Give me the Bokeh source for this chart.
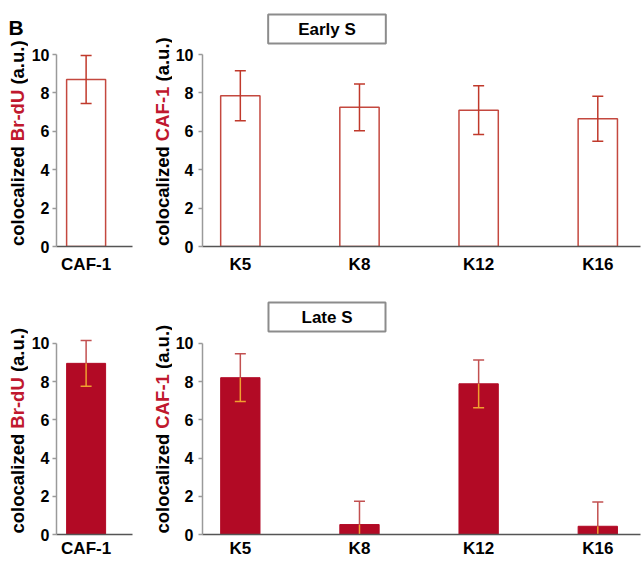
from bokeh.plotting import figure
from bokeh.models import Range1d, FixedTicker, Label
from bokeh.layouts import column, row
from bokeh.embed import file_html
from bokeh.resources import INLINE

# ---------------- data ----------------
panel_letter = "B"
left_categories = ["CAF-1"]
right_categories = ["K5", "K8", "K12", "K16"]
y_ticks = [0, 2, 4, 6, 8, 10]
phase_titles = ["Early S", "Late S"]

early_brdu = [8.7]
early_brdu_err = [1.25]
early_caf = [7.85, 7.25, 7.1, 6.65]
early_caf_err = [1.3, 1.22, 1.27, 1.17]

late_brdu = [8.95]
late_brdu_err = [1.2]
late_caf = [8.2, 0.52, 7.88, 0.43]
late_caf_err = [1.25, 1.22, 1.25, 1.27]

# ---------------- styles ----------------
FONT = "Liberation Sans"
RED_TEXT = "#c0182e"
BAR_FILL = "#b20a25"
OPEN_LINE = "#c4483f"
ERR_OPEN = "#c0392b"
ERR_OUT = "#c25050"
ERR_IN = "#f0a030"
PX_PER_UNIT = 119.7     # horizontal px per category step
PX_PER_Y = 19.2         # vertical px per y unit
BAR_W = 0.33
SZ = 18.5               # y-label font size
SPACE = 0.278
# Liberation Sans Bold advance widths (em) for the label pieces
EM_W = {"colocalized": 5.391, "Br-dU": 2.777, "CAF-1": 2.944, "(a.u.)": 2.389,
        "Early S": 3.391, "Late S": 3.001}
TITLE_SZ = 17
TITLE_BOX_W = 117


def label_column(width, height, mid, mid_x, start_y, letter_y=None):
    # the frame of this figure lines up with the frame of its neighbours in the row
    p = figure(width=width, height=height, output_backend="svg", toolbar_location=None,
               x_range=Range1d(0, 1), y_range=Range1d(0, 1),
               x_axis_location=None, y_axis_location=None,
               min_border_left=0, min_border_right=0, min_border_top=0, min_border_bottom=0)
    p.grid.visible = False
    p.outline_line_color = None
    pieces = [("colocalized", "black"), (mid, RED_TEXT), ("(a.u.)", "black")]
    y0 = start_y
    for text, color in pieces:
        w = EM_W[text] * SZ
        p.add_layout(Label(x=mid_x, y=y0 + w / 2, x_units="screen", y_units="screen",
                           text=text, angle=90, angle_units="deg",
                           text_align="center", text_baseline="middle",
                           text_font=FONT, text_font_style="bold",
                           text_font_size=f"{SZ}px", text_color=color))
        y0 += w + SPACE * SZ
    if letter_y is not None:
        p.add_layout(Label(x=8, y=letter_y, x_units="screen", y_units="screen",
                           text=panel_letter, text_align="left", text_baseline="alphabetic",
                           text_font=FONT, text_font_style="bold", text_font_size="21px",
                           text_color="black"))
    return p


def make_panel(cats, vals, errs, filled, width, height, bl, br, bb,
               first_center_px, top10_px, tick_standoff, x_standoff, title=None):
    frame_w = width - bl - br
    frame_h = height - bb
    x_start = -first_center_px / PX_PER_UNIT
    x_end = x_start + frame_w / PX_PER_UNIT
    y_end = frame_h / PX_PER_Y
    p = figure(width=width, height=height, output_backend="svg",
               toolbar_location=None,
               x_range=Range1d(x_start, x_end), y_range=Range1d(0, y_end),
               min_border_left=bl, min_border_right=br,
               min_border_top=0, min_border_bottom=bb)
    p.outline_line_color = None
    p.xgrid.visible = False
    p.ygrid.visible = False

    xs = list(range(len(cats)))
    upper = [v + e for v, e in zip(vals, errs)]
    lower = [v - e for v, e in zip(vals, errs)]

    if filled:
        p.vbar(x=xs, top=vals, bottom=0, width=BAR_W, fill_color=BAR_FILL,
               line_color=BAR_FILL, line_width=1)
        p.segment(x0=xs, y0=[max(l, 0) for l in lower], x1=xs, y1=vals,
                  line_color=ERR_IN, line_width=1.5)
        p.scatter(x=xs, y=lower, marker="dash", size=11, line_color=ERR_IN, line_width=1.5)
        p.segment(x0=xs, y0=vals, x1=xs, y1=upper, line_color=ERR_OUT, line_width=1.5)
        p.scatter(x=xs, y=upper, marker="dash", size=11, line_color=ERR_OUT, line_width=1.5)
    else:
        p.vbar(x=xs, top=vals, bottom=0, width=BAR_W, fill_color="white",
               line_color=OPEN_LINE, line_width=1.5)
        p.segment(x0=xs, y0=lower, x1=xs, y1=upper, line_color=ERR_OPEN, line_width=1.5)
        p.scatter(x=xs, y=upper, marker="dash", size=11, line_color=ERR_OPEN, line_width=1.5)
        p.scatter(x=xs, y=lower, marker="dash", size=11, line_color=ERR_OPEN, line_width=1.5)

    ya = p.yaxis[0]
    ya.ticker = FixedTicker(ticks=y_ticks)
    ya.bounds = (y_ticks[0], y_ticks[-1])
    ya.minor_tick_line_color = None
    ya.major_tick_in = 0
    ya.major_tick_out = 4
    ya.major_tick_line_color = "#9a9a9a"
    ya.major_tick_line_width = 1.5
    ya.axis_line_color = "#9a9a9a"
    ya.axis_line_width = 1.5
    ya.major_label_standoff = tick_standoff
    ya.major_label_text_font = FONT
    ya.major_label_text_font_style = "bold"
    ya.major_label_text_font_size = "16px"
    ya.major_label_text_color = "black"

    xa = p.xaxis[0]
    xa.ticker = FixedTicker(ticks=xs)
    xa.major_label_overrides = {i: c for i, c in zip(xs, cats)}
    xa.major_tick_in = 0
    xa.major_tick_out = 0
    xa.major_tick_line_color = None
    xa.minor_tick_line_color = None
    xa.axis_line_color = "#555555"
    xa.axis_line_width = 1.5
    xa.major_label_standoff = x_standoff
    xa.major_label_text_font = FONT
    xa.major_label_text_font_style = "bold"
    xa.major_label_text_font_size = "17px"
    xa.major_label_text_color = "black"

    if title is not None:
        pad_h = int(round((TITLE_BOX_W - EM_W[title] * TITLE_SZ) / 2))
        p.add_layout(Label(x=124.5, y=frame_h - top10_px + 25.5, x_units="screen",
                           y_units="screen",
                           text=title, text_align="center", text_baseline="middle",
                           text_font=FONT, text_font_style="bold",
                           text_font_size=f"{TITLE_SZ}px",
                           text_color="black", border_line_color="#8c8c8c",
                           border_line_width=2, background_fill_color="white",
                           padding=(pad_h, 5)))
    return p


H1, H2 = 286, 274
# top row (frame bottom at 246 px from the row top)
la = label_column(28, H1, "Br-dU", 16.6, 0.5, letter_y=246 - 27)
tl = make_panel(left_categories, early_brdu, early_brdu_err, False, 122, H1,
                27, 18, 40, 30, 54, 3, 8)
lb = label_column(22, H1, "CAF-1", 11.6, 0.5)
tr = make_panel(right_categories, early_caf, early_caf_err, False, 469, H1,
                28, 1, 40, 38, 54, 5, 8, title=phase_titles[0])
# bottom row
lc = label_column(28, H2, "Br-dU", 16.6, 1)
bl = make_panel(left_categories, late_brdu, late_brdu_err, True, 122, H2,
                27, 18, 25, 30, 57, 3, 4)
ld = label_column(22, H2, "CAF-1", 11.6, 1)
br = make_panel(right_categories, late_caf, late_caf_err, True, 469, H2,
                28, 1, 25, 38, 57, 5, 4, title=phase_titles[1])

layout = column(row(la, tl, lb, tr, spacing=0), row(lc, bl, ld, br, spacing=0), spacing=0)

open("out.html", "w").write(file_html(layout, INLINE))
